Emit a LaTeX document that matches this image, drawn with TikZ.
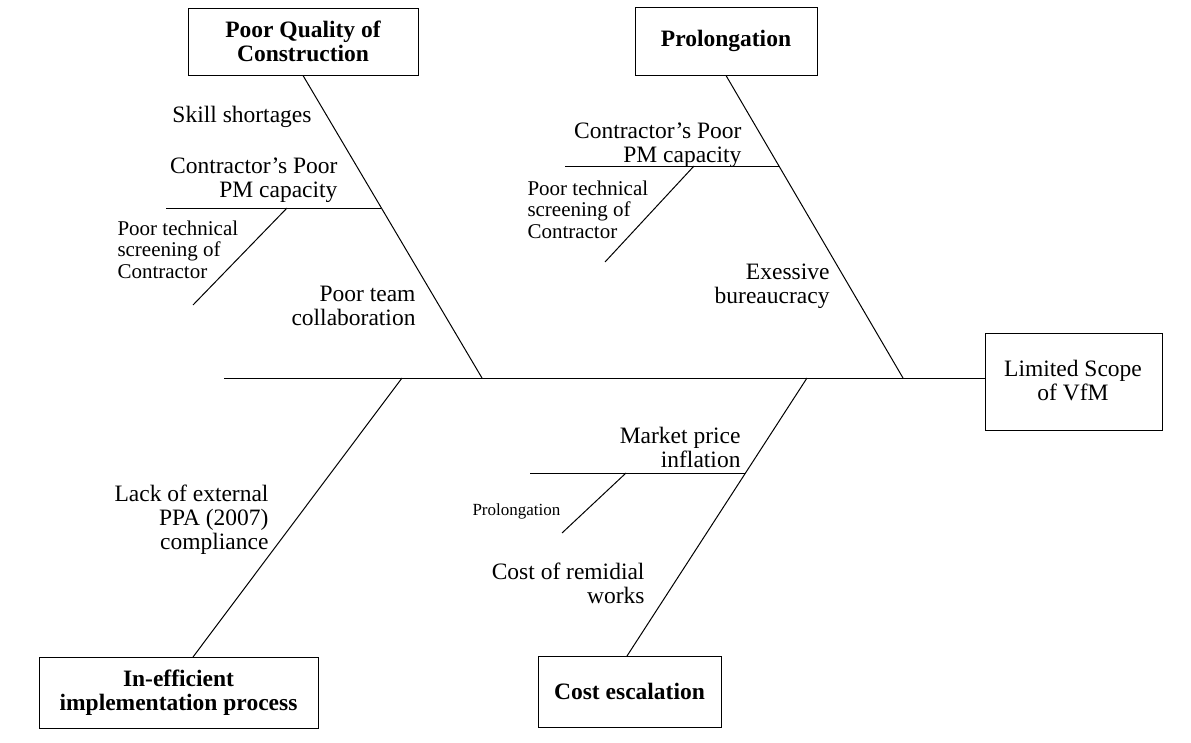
\documentclass[tikz,border=0pt]{standalone}
\usepackage{fontspec}
\setmainfont{Liberation Serif}
\begin{document}
\begin{tikzpicture}[x=1pt,y=-1pt,line width=1pt,
  every node/.style={inner sep=0pt},
  lbl/.style={font=\fontsize{23.5}{24}\selectfont},
  sml/.style={font=\fontsize{21}{21.5}\selectfont,align=left},
  tiny/.style={font=\fontsize{17}{20}\selectfont},
  box/.style={draw,line width=1pt,font=\fontsize{23.5}{24}\selectfont\bfseries,align=center},
  bone/.style={line width=1pt}]
\useasboundingbox (0,0) rectangle (1191,742);
% boxes
\node[box,minimum width=230pt,minimum height=67pt] (pq) at (303,41.5) {Poor Quality of\\Construction};
\node[box,minimum width=182pt,minimum height=68pt] (pr) at (726,41) {Prolongation};
\node[box,minimum width=183pt,minimum height=71pt] (ce) at (629.5,691.5) {Cost escalation};
\node[box,minimum width=279pt,minimum height=71pt] (ie) at (178.5,692.5) {In-efficient\\implementation process};
\node[draw,line width=1pt,minimum width=177pt,minimum height=97pt] (lim) at (1073.5,381.5) {};
\node[lbl,align=center,anchor=base] (limt) at (1073,400) {Limited Scope\\of VfM};
% coordinates
\coordinate (s0) at (224,378);
\coordinate (sR) at (985,378);
\coordinate (b1) at (482,378);
\coordinate (b2) at (903,378);
\coordinate (b3) at (402,378);
\coordinate (b3e) at (193,657);
\coordinate (b4) at (807,378);
\coordinate (b4e) at (627,656);
\coordinate (h1a) at (166,208);
\coordinate (h1b) at (381,208);
\coordinate (d1a) at (287,208);
\coordinate (d1b) at (193,305);
\coordinate (h2a) at (565,166);
\coordinate (h2b) at (780,166);
\coordinate (d2a) at (694,166);
\coordinate (d2b) at (605,262);
\coordinate (h3a) at (530,473);
\coordinate (h3b) at (745,473);
\coordinate (d3a) at (626,473);
\coordinate (d3b) at (562,533);
% lines
\draw[bone] (s0) -- (sR);
\draw[bone] (pq.south) -- (b1);
\draw[bone] (pr.south) -- (b2);
\draw[bone] (b3) -- (b3e);
\draw[bone] (b4) -- (b4e);
\draw[bone] (h1a) -- (h1b);
\draw[bone] (d1a) -- (d1b);
\draw[bone] (h2a) -- (h2b);
\draw[bone] (d2a) -- (d2b);
\draw[bone] (h3a) -- (h3b);
\draw[bone] (d3a) -- (d3b);
% labels (base = baseline of last line)
\node[lbl,anchor=base east] (t1) at (312,122) {Skill shortages};
\node[lbl,align=right,anchor=base east] (t2) at (338,197) {Contractor's Poor\\PM capacity};
\node[sml,anchor=base west] (t3) at (117,278) {Poor technical\\screening of\\Contractor};
\node[lbl,align=right,anchor=base east] (t4) at (416,325) {Poor team\\collaboration};
\node[lbl,align=right,anchor=base east] (t5) at (742,162) {Contractor's Poor\\PM capacity};
\node[sml,anchor=base west] (t6) at (527,238) {Poor technical\\screening of\\Contractor};
\node[lbl,align=right,anchor=base east] (t7) at (830,303) {Exessive\\bureaucracy};
\node[lbl,align=right,anchor=base east] (t9) at (741,467) {Market price\\inflation};
\node[tiny,anchor=base west] (t10) at (472,515) {Prolongation};
\node[lbl,align=right,anchor=base east] (t11) at (645,603) {Cost of remidial\\works};
\node[lbl,align=right,anchor=base east] (t12) at (269,549) {Lack of external\\PPA (2007)\\compliance};
\end{tikzpicture}
\end{document}
